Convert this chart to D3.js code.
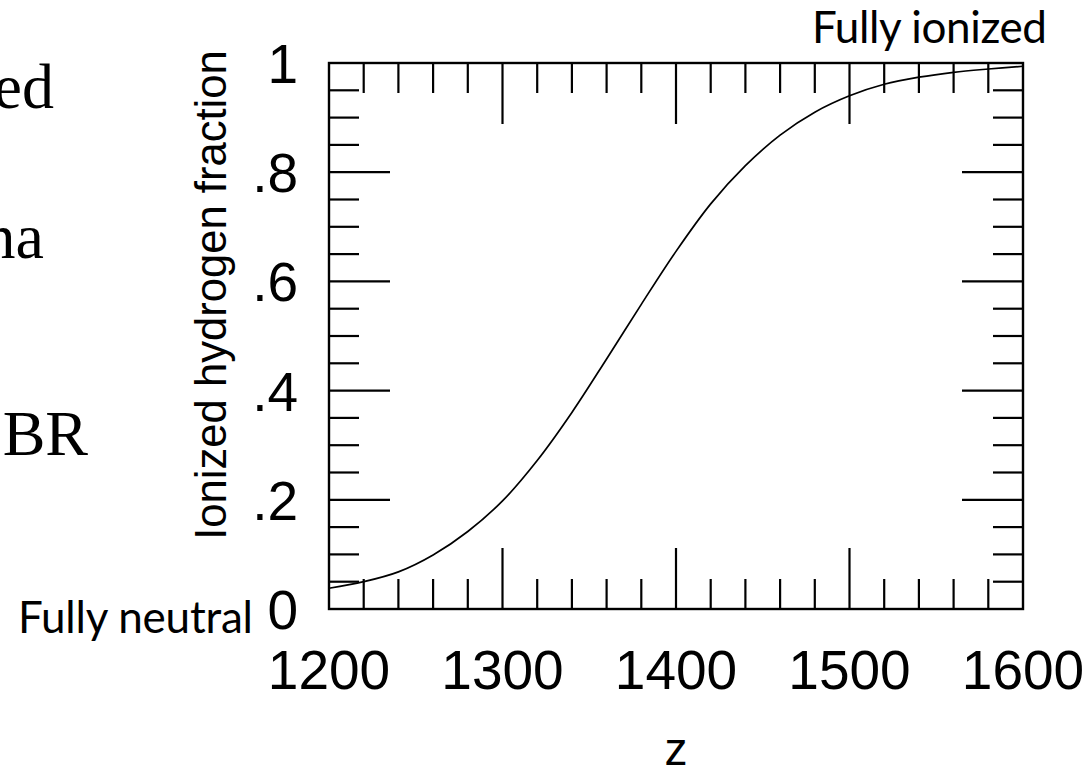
<!DOCTYPE html>
<html>
<head>
<meta charset="utf-8">
<script src="https://cdn.jsdelivr.net/npm/d3@7"></script>
<style>
  body { margin: 0; background: #fff; }
  svg { display: block; }
</style>
</head>
<body>
<svg id="chart" width="1092" height="780"></svg>
<script>
// redshift z and ionized fraction
var redshift = [1200, 1220, 1240, 1260, 1280, 1300, 1320, 1340, 1360, 1380, 1400,
                1420, 1440, 1460, 1480, 1500, 1520, 1540, 1560, 1580, 1600];
var ionFrac  = [0.038, 0.050, 0.068, 0.099, 0.142, 0.198, 0.272, 0.360, 0.458, 0.558, 0.655,
                0.742, 0.812, 0.868, 0.910, 0.940, 0.961, 0.974, 0.983, 0.989, 0.994];

var xLabels = [1200, 1300, 1400, 1500, 1600];
var yLabels = [0, 0.2, 0.4, 0.6, 0.8, 1];
var yLabelText = ["0", ".2", ".4", ".6", ".8", "1"];

// cut-off slide text on the left
var sideText = ["ed", "na", "BR"];
var sideY = [108, 258, 455];
var sideRight = [54, 44, 88];

var svg = d3.select("#chart");

var plotLeft = 329, plotTop = 63, plotW = 694, plotH = 546;

var x = d3.scaleLinear().domain([1200, 1600]).range([plotLeft, plotLeft + plotW]);
var y = d3.scaleLinear().domain([0, 1]).range([plotTop + plotH, plotTop]);

var minorLen = 30, majorLen = 61;

// minor ticks every 20 in z, every .05 in fraction
var xTicks = d3.range(1220, 1600, 20);
var yTicks = d3.range(1, 20).map(function(i) { return i * 0.05; });

function isMajorX(v) { return v % 100 == 0; }
function isMajorY(v) { return Math.abs(v * 5 - Math.round(v * 5)) < 1e-6; }

var ticks = svg.append("g")
    .attr("stroke", "#000")
    .attr("stroke-width", 2.2);

// bottom + top
ticks.selectAll(".xb").data(xTicks).enter().append("line")
    .attr("x1", function(d) { return x(d); })
    .attr("x2", function(d) { return x(d); })
    .attr("y1", plotTop + plotH)
    .attr("y2", function(d) { return plotTop + plotH - (isMajorX(d) ? majorLen : minorLen); });

ticks.selectAll(".xt").data(xTicks).enter().append("line")
    .attr("x1", function(d) { return x(d); })
    .attr("x2", function(d) { return x(d); })
    .attr("y1", plotTop)
    .attr("y2", function(d) { return plotTop + (isMajorX(d) ? majorLen : minorLen); });

// left + right
ticks.selectAll(".yl").data(yTicks).enter().append("line")
    .attr("y1", function(d) { return y(d); })
    .attr("y2", function(d) { return y(d); })
    .attr("x1", plotLeft)
    .attr("x2", function(d) { return plotLeft + (isMajorY(d) ? majorLen : minorLen); });

ticks.selectAll(".yr").data(yTicks).enter().append("line")
    .attr("y1", function(d) { return y(d); })
    .attr("y2", function(d) { return y(d); })
    .attr("x1", plotLeft + plotW)
    .attr("x2", function(d) { return plotLeft + plotW - (isMajorY(d) ? majorLen : minorLen); });

// frame
svg.append("rect")
    .attr("x", plotLeft).attr("y", plotTop)
    .attr("width", plotW).attr("height", plotH)
    .attr("fill", "none")
    .attr("stroke", "#000")
    .attr("stroke-width", 2.4);

// the curve
var line = d3.line()
    .x(function(d, i) { return x(redshift[i]); })
    .y(function(d) { return y(d); })
    .curve(d3.curveCatmullRom);

svg.append("path")
    .datum(ionFrac)
    .attr("d", line)
    .attr("fill", "none")
    .attr("stroke", "#000")
    .attr("stroke-width", 1.7);

// tick labels
svg.selectAll(".xlab").data(xLabels).enter().append("text")
    .attr("x", function(d) { return x(d); })
    .attr("y", 689)
    .attr("text-anchor", "middle")
    .style("font-family", "'Liberation Sans', Arial, sans-serif")
    .style("font-size", "55px")
    .text(function(d) { return d; });

svg.selectAll(".ylab").data(yLabels).enter().append("text")
    .attr("x", 298)
    .attr("y", function(d) { return y(d) + 20; })
    .attr("text-anchor", "end")
    .style("font-family", "'Liberation Sans', Arial, sans-serif")
    .style("font-size", "55px")
    .text(function(d, i) { return yLabelText[i]; });

// axis titles
svg.append("text")
    .attr("transform", "translate(226," + 295 + ") rotate(-90)")
    .attr("text-anchor", "middle")
    .style("font-family", "'Liberation Sans', Arial, sans-serif")
    .style("font-size", "43.6px")
    .text("Ionized hydrogen fraction");

svg.append("text")
    .attr("x", plotLeft + plotW / 2)
    .attr("y", 765)
    .attr("text-anchor", "middle")
    .style("font-family", "'Liberation Sans', Arial, sans-serif")
    .style("font-size", "46px")
    .text("z");

// annotations
svg.append("text")
    .attr("x", 812).attr("y", 43)
    .attr("textLength", 235)
    .style("font-family", "Lato, 'Open Sans', sans-serif")
    .style("font-size", "44px")
    .text("Fully ionized");

svg.append("text")
    .attr("x", 18).attr("y", 633)
    .attr("textLength", 235)
    .style("font-family", "Lato, 'Open Sans', sans-serif")
    .style("font-size", "44px")
    .text("Fully neutral");

// slide text running off the left edge
svg.selectAll(".side").data(sideText).enter().append("text")
    .attr("x", function(d, i) { return sideRight[i]; })
    .attr("y", function(d, i) { return sideY[i]; })
    .attr("text-anchor", "end")
    .style("font-family", "'Liberation Serif', 'Times New Roman', serif")
    .style("font-size", "64px")
    .text(function(d) { return d; });
</script>
</body>
</html>
